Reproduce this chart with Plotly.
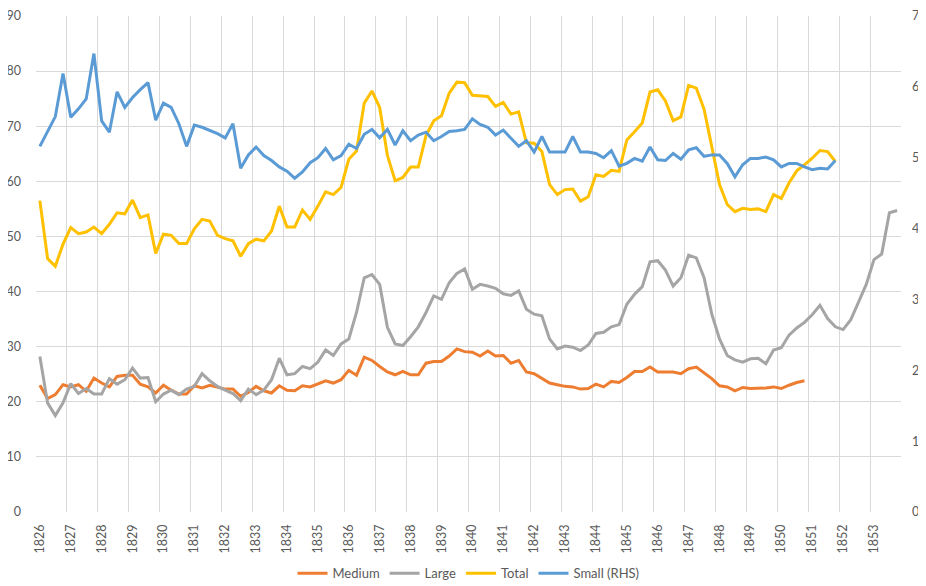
import plotly.graph_objects as go

# Quarterly observations, 1826Q1 onwards
start_year = 1826
years = list(range(1826, 1854))

medium = [23.0, 20.6, 21.3, 23.1, 22.7, 23.1, 21.9, 24.3, 23.4, 22.7, 24.6, 24.8, 24.8, 23.2, 22.7, 21.6,
          23.0, 22.1, 21.4, 21.4, 22.9, 22.5, 23.0, 22.6, 22.3, 22.3, 21.0, 21.7, 22.8, 22.0, 21.6, 22.9,
          22.1, 22.0, 22.9, 22.7, 23.2,
          23.8, 23.4, 24.0, 25.7, 24.8, 28.1, 27.5, 26.4, 25.4, 24.9, 25.5, 24.9, 24.9, 27.0, 27.3, 27.3,
          28.3, 29.6, 29.1, 29.0, 28.3, 29.2, 28.3, 28.4, 27.0, 27.5, 25.4, 25.1, 24.2, 23.4, 23.1, 22.8,
          22.7, 22.3, 22.4, 23.2, 22.7, 23.7, 23.5,
          24.4, 25.5, 25.5, 26.3, 25.4, 25.4, 25.4, 25.1, 26.0, 26.3, 25.2, 24.2, 22.9, 22.7, 22.0, 22.6,
          22.4, 22.4, 22.5, 22.7, 22.4, 23.0, 23.5, 23.8]

large = [28.2, 19.8, 17.5, 19.8, 23.3, 21.5, 22.4, 21.4, 21.4, 24.2, 23.2, 24.0, 26.1, 24.3, 24.4, 20.0,
         21.4, 22.1, 21.3, 22.3, 22.8, 25.1, 23.8, 22.8, 22.1, 21.5, 20.2, 22.3, 21.3, 22.1, 24.0, 27.9,
         24.9, 25.1, 26.4, 26.0, 27.2,
         29.4, 28.4, 30.5, 31.4, 36.2, 42.5, 43.1, 41.3, 33.5, 30.5, 30.2, 31.8, 33.6, 36.2, 39.2, 38.6,
         41.6, 43.3, 44.1, 40.4, 41.3, 41.0, 40.6, 39.6, 39.3, 40.1, 36.8, 35.9, 35.6, 31.4, 29.6, 30.1,
         29.9, 29.3, 30.3, 32.4, 32.6, 33.6, 34.0,
         37.7, 39.5, 40.9, 45.4, 45.6, 43.9, 41.0, 42.5, 46.6, 46.1, 42.5, 35.9, 31.4, 28.4, 27.6, 27.2,
         27.8, 27.9, 26.9, 29.4, 29.8, 32.1, 33.4, 34.4, 35.8, 37.5, 35.1, 33.6, 33.1, 34.9, 38.1, 41.3,
         45.8, 46.8, 54.3, 54.7]

total = [56.5, 46.0, 44.6, 48.6, 51.6, 50.5, 50.8, 51.7, 50.5, 52.2, 54.3, 54.1, 56.6, 53.4, 53.9, 46.9,
         50.4, 50.2, 48.7, 48.7, 51.4, 53.1, 52.8, 50.2, 49.6, 49.2, 46.4, 48.7, 49.5, 49.2, 51.0, 55.5,
         51.7, 51.7, 54.8, 53.1, 55.5,
         58.1, 57.6, 58.9, 64.0, 65.5, 74.2, 76.4, 73.4, 64.7, 60.1, 60.7, 62.6, 62.6, 68.3, 71.0, 71.9,
         76.0, 78.0, 77.9, 75.6, 75.5, 75.4, 73.6, 74.3, 72.2, 72.6, 67.0, 66.9, 65.4, 59.4, 57.6, 58.5,
         58.6, 56.4, 57.2, 61.2, 60.9, 62.0, 61.8,
         67.5, 69.0, 70.6, 76.2, 76.6, 74.6, 71.0, 71.7, 77.4, 76.9, 73.1, 66.3, 59.4, 55.8, 54.5, 55.1,
         54.9, 55.0, 54.5, 57.6, 56.9, 59.7, 61.9, 63.0, 64.2, 65.6, 65.4, 63.6]

small_rhs = [5.16, 5.37, 5.58, 6.19, 5.57, 5.69, 5.83, 6.47, 5.52, 5.36, 5.93, 5.71, 5.85, 5.96, 6.06, 5.53,
             5.77, 5.71, 5.48, 5.16, 5.46, 5.43, 5.39, 5.34, 5.28, 5.48, 4.85, 5.04, 5.15, 5.03, 4.96, 4.87,
             4.81, 4.71, 4.80, 4.93, 5.00,
             5.13, 4.97, 5.03, 5.19, 5.13, 5.33, 5.40, 5.28, 5.40, 5.18, 5.38, 5.24, 5.32, 5.36, 5.24, 5.30,
             5.37, 5.38, 5.40, 5.55, 5.47, 5.43, 5.32, 5.39, 5.27, 5.16, 5.24, 5.08, 5.30, 5.08, 5.08, 5.08,
             5.30, 5.08, 5.08, 5.06, 5.00, 5.10, 4.88,
             4.92, 4.99, 4.95, 5.15, 4.97, 4.96, 5.06, 4.98, 5.11, 5.14, 5.02, 5.04, 5.04, 4.92, 4.73, 4.90,
             4.99, 4.99, 5.01, 4.97, 4.87, 4.92, 4.92, 4.87, 4.83, 4.85, 4.84, 4.96]


def xpos(series):
    return [start_year + i / 4 for i in range(len(series))]


FONT = "Lato, 'Open Sans', sans-serif"
GRID = "#D9D9D9"
TXT = "#595959"

fig = go.Figure()
fig.add_trace(go.Scatter(x=xpos(medium), y=medium, name="Medium", mode="lines",
                         line=dict(color="#ED7D31", width=3)))
fig.add_trace(go.Scatter(x=xpos(large), y=large, name="Large", mode="lines",
                         line=dict(color="#A5A5A5", width=3)))
fig.add_trace(go.Scatter(x=xpos(total), y=total, name="Total", mode="lines",
                         line=dict(color="#FFC000", width=3)))
fig.add_trace(go.Scatter(x=xpos(small_rhs), y=small_rhs, name="Small (RHS)", mode="lines",
                         line=dict(color="#5B9BD5", width=3), yaxis="y2"))

# The page body adds an 8px offset, so the figure is sized 8px smaller.
fig.update_layout(
    width=918, height=578,
    margin=dict(l=28, r=25, t=8, b=74, autoexpand=False),
    paper_bgcolor="white", plot_bgcolor="white",
    font=dict(family=FONT, size=12, color=TXT),
    showlegend=True,
    legend=dict(orientation="h", x=0.5, xanchor="center", y=-0.1235,
                yanchor="middle", font=dict(size=13, color=TXT), itemwidth=30,
                traceorder="normal"),
    xaxis=dict(
        range=[start_year - 0.125, years[-1] + 0.875],
        tickmode="array", tickvals=years, ticktext=[str(y) for y in years],
        tickangle=-90, showgrid=False, zeroline=False, showline=False, automargin=False,
        ticks="", ticklabelstandoff=9, ticklabeloverflow="allow",
        tickfont=dict(size=12.5, color=TXT),
        minor=dict(tickmode="array", tickvals=[y - 0.125 for y in years] + [years[-1] + 0.875],
                   showgrid=True, gridcolor=GRID, gridwidth=1, ticks=""),
    ),
    yaxis=dict(
        range=[0, 90], dtick=10, showgrid=True, gridcolor=GRID, gridwidth=1, automargin=False,
        zeroline=False, showline=False, ticks="", ticklabelstandoff=14,
        ticklabeloverflow="allow", tickfont=dict(size=12.5, color=TXT),
    ),
    yaxis2=dict(
        range=[0, 7], dtick=1, overlaying="y", side="right", showgrid=False, automargin=False,
        zeroline=False, showline=False, ticks="", ticklabelstandoff=10,
        ticklabeloverflow="allow", tickfont=dict(size=12.5, color=TXT),
    ),
)

fig.write_html("out.html")
